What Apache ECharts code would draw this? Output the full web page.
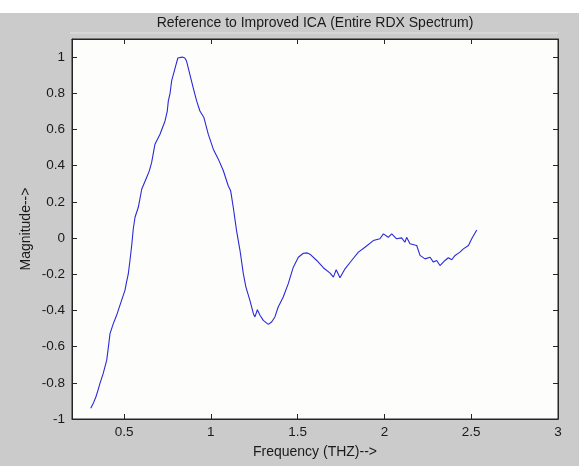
<!DOCTYPE html>
<html>
<head>
<meta charset="utf-8">
<script src="https://cdn.jsdelivr.net/npm/echarts@6/dist/echarts.min.js"></script>
<style>
  html, body { margin: 0; padding: 0; background: #ffffff; }
  #chart { width: 579px; height: 466px; }
</style>
</head>
<body>
<div id="chart"></div>
<script>
// Frequency samples (THz) and normalised magnitude of the RDX reference spectrum
const frequency = [
  0.308, 0.322, 0.338, 0.350, 0.361, 0.380, 0.400, 0.410, 0.419, 0.438,
  0.457, 0.476, 0.505, 0.515, 0.524, 0.534, 0.544, 0.553, 0.563, 0.582,
  0.602, 0.630, 0.645, 0.659, 0.678, 0.707, 0.736, 0.749, 0.755, 0.765,
  0.774, 0.797, 0.810, 0.820, 0.835, 0.850, 0.860, 0.879, 0.898, 0.918,
  0.937, 0.960, 0.985, 1.014, 1.043, 1.072, 1.100, 1.114, 1.129, 1.148,
  1.168, 1.187, 1.202, 1.225, 1.245, 1.254, 1.268, 1.283, 1.302, 1.331,
  1.350, 1.369, 1.388, 1.417, 1.446, 1.475, 1.504, 1.533, 1.555, 1.571,
  1.610, 1.648, 1.687, 1.706, 1.722, 1.744, 1.773, 1.811, 1.850, 1.888,
  1.936, 1.974, 1.994, 2.022, 2.042, 2.070, 2.099, 2.118, 2.128, 2.147,
  2.186, 2.205, 2.234, 2.263, 2.282, 2.301, 2.320, 2.349, 2.368, 2.388,
  2.407, 2.435, 2.455, 2.484, 2.503, 2.532
];
const magnitude = [
  -0.941, -0.915, -0.877, -0.840, -0.803, -0.748, -0.675, -0.600, -0.528, -0.473,
  -0.427, -0.372, -0.289, -0.240, -0.200, -0.124, -0.040, 0.050, 0.115, 0.170,
  0.271, 0.335, 0.370, 0.418, 0.519, 0.574, 0.647, 0.702, 0.758, 0.800,
  0.868, 0.950, 0.995, 1.000, 1.000, 0.995, 0.978, 0.905, 0.831, 0.758,
  0.702, 0.666, 0.574, 0.491, 0.436, 0.372, 0.289, 0.262, 0.170, 0.041,
  -0.069, -0.197, -0.271, -0.344, -0.418, -0.436, -0.396, -0.427, -0.455, -0.477,
  -0.464, -0.436, -0.381, -0.326, -0.252, -0.161, -0.106, -0.084, -0.082, -0.089,
  -0.124, -0.164, -0.194, -0.216, -0.175, -0.220, -0.170, -0.124, -0.078, -0.051,
  -0.014, -0.004, 0.023, 0.004, 0.023, -0.004, 0.001, -0.023, 0.004, -0.032,
  -0.041, -0.096, -0.115, -0.106, -0.133, -0.124, -0.152, -0.124, -0.109, -0.120,
  -0.096, -0.078, -0.060, -0.041, -0.004, 0.045
];

// Tick positions and labels
const xTicks = [0.5, 1, 1.5, 2, 2.5, 3];
const yTickLabels = ['-1', '-0.8', '-0.6', '-0.4', '-0.2', '0', '0.2', '0.4', '0.6', '0.8', '1'];

const titleText = 'Reference to Improved ICA (Entire RDX Spectrum)';
const xName = 'Frequency (THZ)-->';
const yName = 'Magnitude-->';

const FONT = '"Liberation Sans", Arial, sans-serif';
const TEXT = '#1a1a1a';
const AXIS = '#262626';

const grid = { left: 72, right: 21, top: 39, bottom: 47 };
const plotW = 579 - grid.left - grid.right;
const plotH = 466 - grid.top - grid.bottom;

const chart = echarts.init(document.getElementById('chart'), null, { renderer: 'canvas' });

const axisTickIn = { show: true, inside: true, length: 5, lineStyle: { color: AXIS, width: 1 } };
const axisLineFixed = { show: true, onZero: false, lineStyle: { color: AXIS, width: 1 } };

const option = {
  animation: false,
  backgroundColor: '#cbcbcb',
  grid: {
    left: grid.left, right: grid.right, top: grid.top, bottom: grid.bottom,
    show: true, backgroundColor: '#fdfdfb', borderColor: AXIS, borderWidth: 1
  },
  graphic: [
    { type: 'rect', left: 0, top: 0, shape: { width: 579, height: 13 }, style: { fill: '#ffffff' }, silent: true },
    { type: 'line', shape: { x1: grid.left - 2, y1: 33, x2: grid.left + plotW, y2: 33 },
      style: { stroke: '#e2e2e2', lineWidth: 1 }, silent: true },
    { type: 'text', x: grid.left + plotW / 2, y: 23,
      style: { text: titleText, fill: TEXT, font: '14px ' + FONT, textAlign: 'center', textVerticalAlign: 'middle' } },
    { type: 'text', x: grid.left + plotW / 2, y: 452,
      style: { text: xName, fill: TEXT, font: '14px ' + FONT, textAlign: 'center', textVerticalAlign: 'middle' } },
    { type: 'text', x: 26, y: grid.top + plotH / 2, rotation: Math.PI / 2,
      style: { text: yName, fill: TEXT, font: '14px ' + FONT, textAlign: 'center', textVerticalAlign: 'middle' } }
  ],
  xAxis: [
    {
      type: 'value', min: 0.2, max: 3, position: 'bottom',
      axisLine: axisLineFixed,
      axisTick: Object.assign({ customValues: xTicks }, axisTickIn),
      axisLabel: { customValues: xTicks, color: TEXT, fontFamily: FONT, fontSize: 13.5, margin: 6,
                   formatter: v => String(+v.toFixed(1)) },
      splitLine: { show: false }
    },
    {
      type: 'value', min: 0.2, max: 3, position: 'top',
      axisLine: axisLineFixed,
      axisTick: Object.assign({ customValues: xTicks }, axisTickIn),
      axisLabel: { show: false },
      splitLine: { show: false }
    }
  ],
  yAxis: [
    {
      type: 'value', min: -1, max: 1.1, interval: 0.2, position: 'left',
      axisLine: axisLineFixed,
      axisTick: Object.assign({}, axisTickIn),
      axisLabel: {
        color: TEXT, fontFamily: FONT, fontSize: 13.5, margin: 7, showMaxLabel: false,
        formatter: v => {
          const i = Math.round((v + 1) / 0.2);
          return Math.abs(v - (-1 + i * 0.2)) < 1e-6 && yTickLabels[i] !== undefined ? yTickLabels[i] : '';
        }
      },
      splitLine: { show: false }
    },
    {
      type: 'value', min: -1, max: 1.1, interval: 0.2, position: 'right',
      axisLine: axisLineFixed,
      axisTick: Object.assign({}, axisTickIn),
      axisLabel: { show: false },
      splitLine: { show: false }
    }
  ],
  series: [
    {
      type: 'line',
      xAxisIndex: 0, yAxisIndex: 0,
      data: frequency.map((f, i) => [f, magnitude[i]]),
      showSymbol: false,
      lineStyle: { color: '#2a2ad8', width: 1.1 },
      smooth: false
    }
  ]
};

chart.setOption(option);
</script>
</body>
</html>
